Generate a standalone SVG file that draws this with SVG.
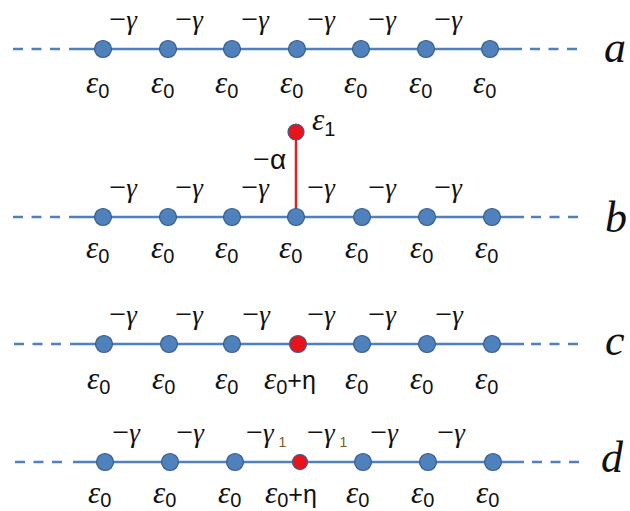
<svg xmlns="http://www.w3.org/2000/svg" width="630" height="511" viewBox="0 0 630 511">
<style>
.bond{stroke:#4F81BD;stroke-width:2.5;fill:none}
.dash{stroke:#4F81BD;stroke-width:2.5;fill:none;stroke-dasharray:10 8.5}
.red{stroke:#E3201F;stroke-width:2.5;fill:none}
.n{fill:#4F81BD;stroke:#385D8A;stroke-width:1.2}
.nr{fill:#E8141B;stroke:#385D8A;stroke-width:1.2}
text{fill:#111}
.g{font-family:"Liberation Serif",serif;font-size:27px;font-style:italic}
.m{font-style:normal;font-size:30px}
.e{font-family:"Liberation Serif",serif;font-size:31px;font-style:italic}
.s{font-family:"Liberation Sans",sans-serif;font-size:20px;font-style:normal}
.s1{font-family:"Liberation Sans",sans-serif;font-size:14px;font-style:normal}
.sn{font-family:"Liberation Sans",sans-serif;font-size:25px;font-style:normal}
.sa{font-family:"Liberation Sans",sans-serif;font-size:28px;font-style:normal}
.L{font-family:"Liberation Serif",serif;font-size:44px;font-style:italic}
.br{fill:#7a5a1e}
</style>
<g id="connectors">
<!-- row a -->
<line class="dash" x1="13" y1="49" x2="62" y2="49"/>
<line class="bond" x1="69" y1="49" x2="522" y2="49"/>
<line class="dash" x1="530" y1="49" x2="580" y2="49"/>
<text class="g" x="123" y="29" text-anchor="middle"><tspan class="m">−</tspan>γ</text>
<text class="g" x="189" y="29" text-anchor="middle"><tspan class="m">−</tspan>γ</text>
<text class="g" x="255" y="29" text-anchor="middle"><tspan class="m">−</tspan>γ</text>
<text class="g" x="321" y="29" text-anchor="middle"><tspan class="m">−</tspan>γ</text>
<text class="g" x="382" y="29" text-anchor="middle"><tspan class="m">−</tspan>γ</text>
<text class="g" x="448" y="29" text-anchor="middle"><tspan class="m">−</tspan>γ</text>
<!-- row b -->
<line class="dash" x1="13" y1="217" x2="62" y2="217"/>
<line class="bond" x1="69" y1="217" x2="524" y2="217"/>
<line class="dash" x1="531" y1="217" x2="580" y2="217"/>
<line class="red" x1="296" y1="132" x2="296" y2="217"/>
<text class="g" x="123" y="197" text-anchor="middle"><tspan class="m">−</tspan>γ</text>
<text class="g" x="189" y="197" text-anchor="middle"><tspan class="m">−</tspan>γ</text>
<text class="g" x="255" y="197" text-anchor="middle"><tspan class="m">−</tspan>γ</text>
<text class="g" x="321" y="197" text-anchor="middle"><tspan class="m">−</tspan>γ</text>
<text class="g" x="382" y="197" text-anchor="middle"><tspan class="m">−</tspan>γ</text>
<text class="g" x="448" y="197" text-anchor="middle"><tspan class="m">−</tspan>γ</text>
<text class="g" x="253" y="169"><tspan class="m">−</tspan><tspan class="sa">α</tspan></text>
<!-- row c -->
<line class="dash" x1="14" y1="344" x2="63" y2="344"/>
<line class="bond" x1="70" y1="344" x2="524" y2="344"/>
<line class="dash" x1="531" y1="344" x2="580" y2="344"/>
<text class="g" x="123" y="324" text-anchor="middle"><tspan class="m">−</tspan>γ</text>
<text class="g" x="189" y="324" text-anchor="middle"><tspan class="m">−</tspan>γ</text>
<text class="g" x="256" y="324" text-anchor="middle"><tspan class="m">−</tspan>γ</text>
<text class="g" x="321" y="324" text-anchor="middle"><tspan class="m">−</tspan>γ</text>
<text class="g" x="382" y="324" text-anchor="middle"><tspan class="m">−</tspan>γ</text>
<text class="g" x="449" y="324" text-anchor="middle"><tspan class="m">−</tspan>γ</text>
<!-- row d -->
<line class="dash" x1="15" y1="462" x2="65" y2="462"/>
<line class="bond" x1="73" y1="462" x2="524" y2="462"/>
<line class="dash" x1="532" y1="462" x2="582" y2="462"/>
<text class="g" x="126" y="442" text-anchor="middle"><tspan class="m">−</tspan>γ</text>
<text class="g" x="190" y="442" text-anchor="middle"><tspan class="m">−</tspan>γ</text>
<text class="g" x="246" y="442"><tspan class="m">−</tspan>γ<tspan class="s1 br" dx="5" dy="5">1</tspan></text>
<text class="g" x="307" y="442"><tspan class="m">−</tspan>γ<tspan class="s1 br" dx="5" dy="5">1</tspan></text>
<text class="g" x="384" y="442" text-anchor="middle"><tspan class="m">−</tspan>γ</text>
<text class="g" x="451" y="442" text-anchor="middle"><tspan class="m">−</tspan>γ</text>
</g>
<g id="row-a">
<g id="a1"><circle class="n" cx="103" cy="49" r="8.5"/><text class="e" x="86" y="93">ε<tspan class="s" dy="5">0</tspan></text></g>
<g id="a2"><circle class="n" cx="168" cy="49" r="8.5"/><text class="e" x="151" y="93">ε<tspan class="s" dy="5">0</tspan></text></g>
<g id="a3"><circle class="n" cx="232" cy="49" r="8.5"/><text class="e" x="215" y="93">ε<tspan class="s" dy="5">0</tspan></text></g>
<g id="a4"><circle class="n" cx="297" cy="49" r="8.5"/><text class="e" x="280" y="93">ε<tspan class="s" dy="5">0</tspan></text></g>
<g id="a5"><circle class="n" cx="361" cy="49" r="8.5"/><text class="e" x="344" y="93">ε<tspan class="s" dy="5">0</tspan></text></g>
<g id="a6"><circle class="n" cx="426" cy="49" r="8.5"/><text class="e" x="409" y="93">ε<tspan class="s" dy="5">0</tspan></text></g>
<g id="a7"><circle class="n" cx="490" cy="49" r="8.5"/><text class="e" x="473" y="93">ε<tspan class="s" dy="5">0</tspan></text></g>
<text class="L" x="604" y="62">a</text>
</g>
<g id="row-b">
<g id="b1"><circle class="n" cx="103" cy="217" r="8.5"/><text class="e" x="86" y="258">ε<tspan class="s" dy="5">0</tspan></text></g>
<g id="b2"><circle class="n" cx="168" cy="217" r="8.5"/><text class="e" x="151" y="258">ε<tspan class="s" dy="5">0</tspan></text></g>
<g id="b3"><circle class="n" cx="232" cy="217" r="8.5"/><text class="e" x="215" y="258">ε<tspan class="s" dy="5">0</tspan></text></g>
<g id="b4"><circle class="n" cx="296" cy="217" r="8.5"/><text class="e" x="279" y="258">ε<tspan class="s" dy="5">0</tspan></text></g>
<g id="b5"><circle class="n" cx="362" cy="217" r="8.5"/><text class="e" x="345" y="258">ε<tspan class="s" dy="5">0</tspan></text></g>
<g id="b6"><circle class="n" cx="427" cy="217" r="8.5"/><text class="e" x="410" y="258">ε<tspan class="s" dy="5">0</tspan></text></g>
<g id="b7"><circle class="n" cx="492" cy="217" r="8.5"/><text class="e" x="475" y="258">ε<tspan class="s" dy="5">0</tspan></text></g>
<g id="b-imp"><circle class="nr" cx="296" cy="132" r="8"/><text class="e" x="312" y="130">ε<tspan class="s" dy="6">1</tspan></text></g>
<text class="L" x="605" y="232">b</text>
</g>
<g id="row-c">
<g id="c1"><circle class="n" cx="104" cy="344" r="8.5"/><text class="e" x="87" y="389">ε<tspan class="s" dy="5">0</tspan></text></g>
<g id="c2"><circle class="n" cx="169" cy="344" r="8.5"/><text class="e" x="152" y="389">ε<tspan class="s" dy="5">0</tspan></text></g>
<g id="c3"><circle class="n" cx="232" cy="344" r="8.5"/><text class="e" x="215" y="389">ε<tspan class="s" dy="5">0</tspan></text></g>
<g id="c4"><circle class="nr" cx="298" cy="344" r="8.5"/><text class="e" x="264" y="389">ε<tspan class="s" dy="5">0</tspan><tspan class="sn" dy="-5">+η</tspan></text></g>
<g id="c5"><circle class="n" cx="362" cy="344" r="8.5"/><text class="e" x="345" y="389">ε<tspan class="s" dy="5">0</tspan></text></g>
<g id="c6"><circle class="n" cx="427" cy="344" r="8.5"/><text class="e" x="410" y="389">ε<tspan class="s" dy="5">0</tspan></text></g>
<g id="c7"><circle class="n" cx="492" cy="344" r="8.5"/><text class="e" x="475" y="389">ε<tspan class="s" dy="5">0</tspan></text></g>
<text class="L" x="605" y="355">c</text>
</g>
<g id="row-d">
<g id="d1"><circle class="n" cx="105" cy="462" r="8.5"/><text class="e" x="88" y="503">ε<tspan class="s" dy="4">0</tspan></text></g>
<g id="d2"><circle class="n" cx="170" cy="462" r="8.5"/><text class="e" x="153" y="503">ε<tspan class="s" dy="4">0</tspan></text></g>
<g id="d3"><circle class="n" cx="235" cy="462" r="8.5"/><text class="e" x="218" y="503">ε<tspan class="s" dy="4">0</tspan></text></g>
<g id="d4"><circle class="nr" cx="300" cy="462" r="7.5"/><text class="e" x="265" y="503">ε<tspan class="s" dy="4">0</tspan><tspan class="sn" dy="-4">+η</tspan></text></g>
<g id="d5"><circle class="n" cx="363" cy="462" r="8.5"/><text class="e" x="346" y="503">ε<tspan class="s" dy="4">0</tspan></text></g>
<g id="d6"><circle class="n" cx="428" cy="462" r="8.5"/><text class="e" x="411" y="503">ε<tspan class="s" dy="4">0</tspan></text></g>
<g id="d7"><circle class="n" cx="493" cy="462" r="8.5"/><text class="e" x="476" y="503">ε<tspan class="s" dy="4">0</tspan></text></g>
<text class="L" x="601" y="472">d</text>
</g>
</svg>
